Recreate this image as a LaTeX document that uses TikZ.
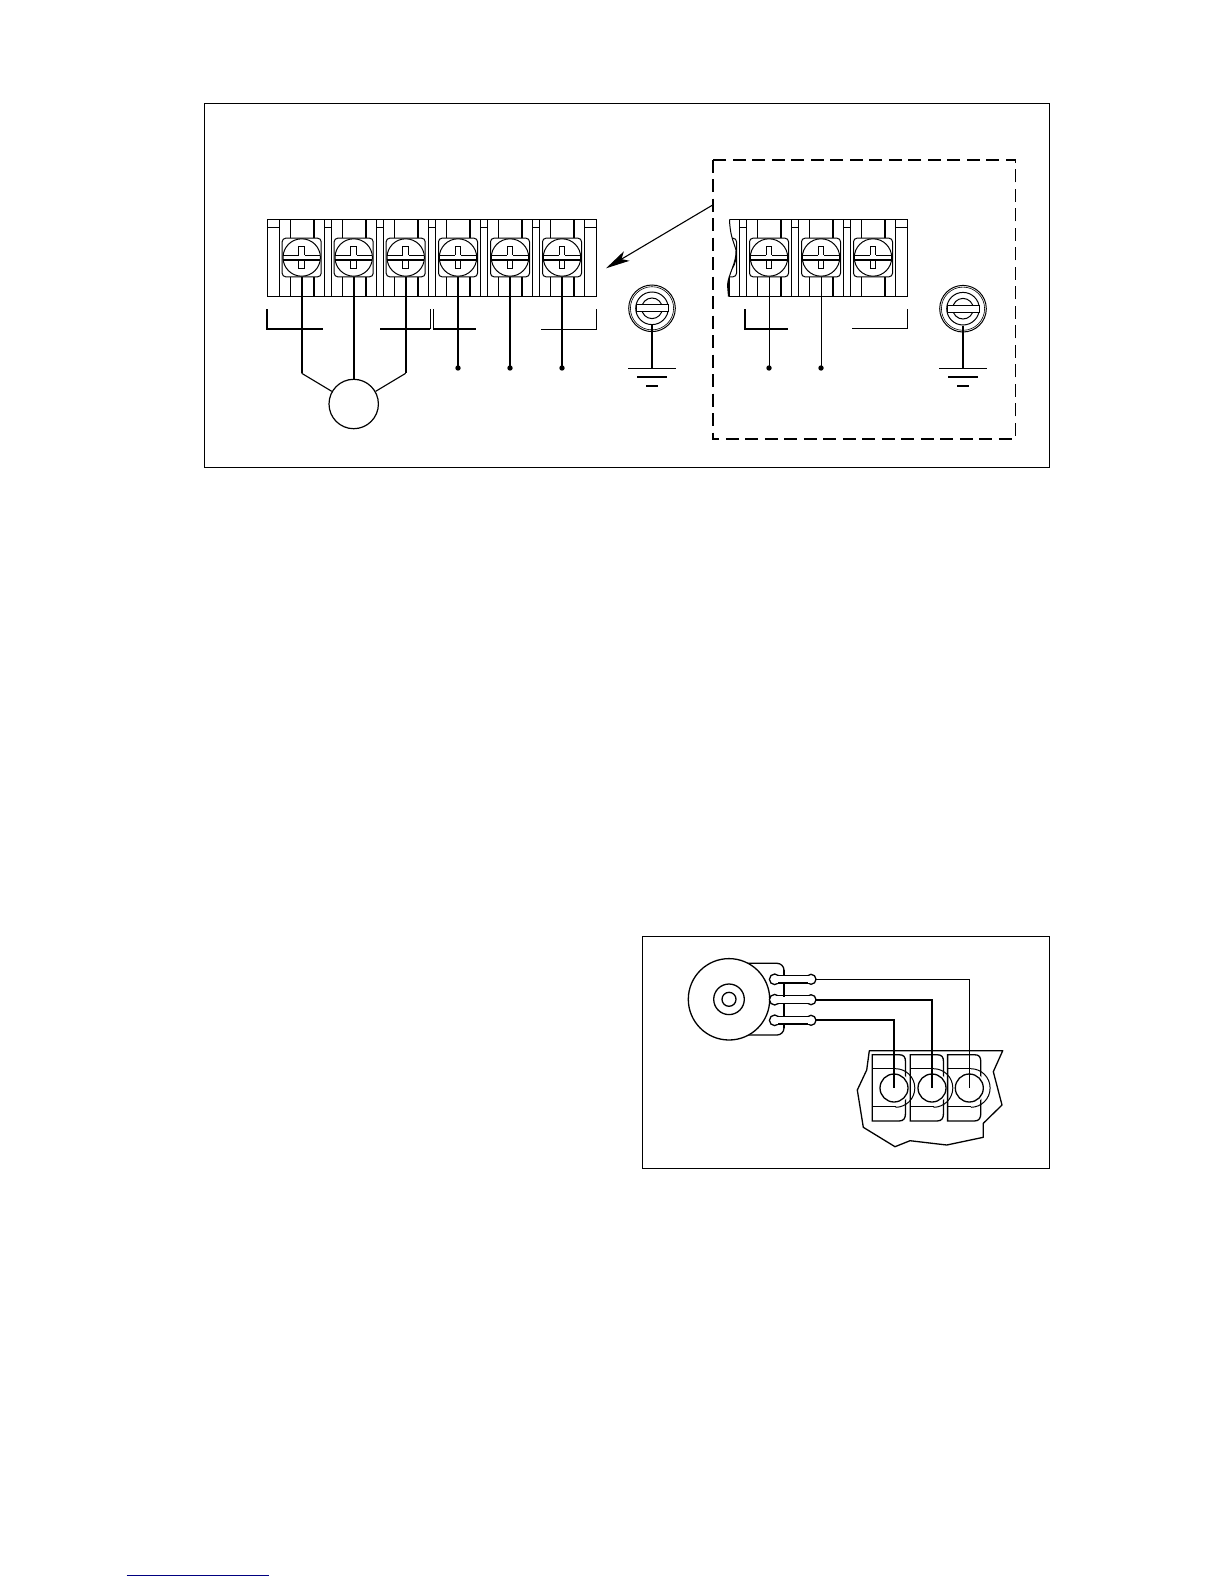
\documentclass[tikz,border=0pt]{standalone}
\usetikzlibrary{arrows.meta}
\definecolor{linkblue}{RGB}{0,0,128}
\tikzset{
  thinl/.style={line width=1pt,black},
  thickl/.style={line width=1.8pt,black},
  wire/.style={line width=1.7pt,black},
  outline/.style={line width=1.3pt,black},
  screwcell/.pic={
    \draw[thinl] (-22.3,-38.3) -- (-22.3,38.8) (22.7,-38.3) -- (22.7,38.8);
    \draw[thinl] (-11.3,-38.3) -- (-11.3,-19) (-11.3,19) -- (-11.3,38.8);
    \draw[thickl] (12,-38.3) -- (12,-19) (12,19) -- (12,38.8);
    \draw[thinl,fill=white,rounded corners=3.5] (-19.5,-19.3) rectangle (19.5,19.3);
    \draw[thinl,fill=white] (0,0) circle[radius=18.7];
    \draw[line width=0.9pt] (-2.9,-2.4) -- (-2.9,-11) -- (2.9,-11) -- (2.9,-2.4);
    \draw[line width=0.9pt] (-2.9,2.6) -- (-2.9,11) -- (2.9,11) -- (2.9,2.6);
    \draw[line width=1.2pt] (-18.4,-2.4) -- (-2.9,-2.4) (2.9,-2.4) -- (18.4,-2.4);
    \draw[line width=1.6pt] (-18.4,2.6) -- (18.4,2.6);
  },
  groundscrew/.pic={
    \draw[thinl] (0,0) circle[radius=23.3];
    \draw[line width=0.6pt] (0,0) circle[radius=21.6];
    \draw[thinl] (0,0) circle[radius=16.3];
    \draw[thinl] (0,0) circle[radius=10.3];
    \draw[thinl,fill=white] (-16,-3.4) rectangle (16,3.4);
    \draw[thickl] (0,17) -- (0,60);
    \draw[thinl] (-23.7,60) -- (23.7,60);
    \draw[line width=1.9pt] (-14.7,68.6) -- (14.7,68.6);
    \draw[line width=1.9pt] (-5.7,77.6) -- (5.7,77.6);
  }
}
\begin{document}
\begin{tikzpicture}[x=1pt,y=-1pt]
\useasboundingbox (0,0) rectangle (1224,1584);
\fill[white] (0,0) rectangle (1224,1584);
% upper frame
\draw[thinl] (204.5,103.5) rectangle (1049.5,467);
\draw[line width=1.6pt,dash pattern=on 13pt off 6.5pt] (712.7,159.7) rectangle (1015.3,439);
\coordinate (arrowstart) at (712.7,205);
\coordinate (arrowtip) at (606,268.3);
\draw[line width=1.1pt,-{Stealth[length=24pt,width=11pt,inset=6pt]}] (arrowstart) -- (arrowtip);

% left terminal block
\foreach \sx in {301.7,353.7,405.7,458,510,562} {
  \pic at (\sx,257.5) {screwcell};
  \draw[thinl] (\sx+22.7,227.7) -- (\sx+29.7,227.7);
}
\draw[thinl] (267.3,219.2) rectangle (596.3,296.3);
\draw[thinl] (267.3,227.7) -- (279.4,227.7);
\draw[thinl] (584.7,227.7) -- (596.3,227.7);
% motor
\node[circle,draw,line width=1.2pt,minimum size=49.4pt,inner sep=0pt] (motor) at (353.7,404) {};
\coordinate (s1) at (301.7,277);
\coordinate (s2) at (353.7,277);
\coordinate (s3) at (405.7,277);
\coordinate (s4) at (458,277);
\coordinate (s5) at (510,277);
\coordinate (s6) at (562,277);
\draw[wire] (s2) -- (motor.north);
\draw[line width=1.7pt,line join=round] (s1) -- (301.7,373.3);
\draw[line width=1.7pt,line join=round] (s3) -- (405.7,373.3);
\draw[line width=1.1pt] (301.7,373.3) -- (motor.150);
\draw[line width=1.1pt] (405.7,373.3) -- (motor.30);
% brackets
\draw[thickl] (267.3,309.3) -- (267.3,329) -- (322.7,329);
\draw[thickl] (380.3,329) -- (430,329);
\draw[thinl] (430,329) -- (430,309.3);
\draw[thinl] (433.3,309.3) -- (433.3,329);
\draw[thickl] (433.3,329) -- (476,329);
\draw[thinl] (541,329) -- (596.3,329) -- (596.3,309.3);
% signal wires with dots
\foreach \n/\sx in {s4/458,s5/510,s6/562} {
  \draw[wire] (\n) -- (\sx,368);
  \fill (\sx,368) circle[radius=2.7];
}
\pic at (652,308.3) {groundscrew};

% right terminal block
\begin{scope}
  \clip (729.5,219.3) .. controls (730,235) and (733,240) .. (736,250)
        .. controls (737,262) and (728,275) .. (727.5,285)
        -- (728,296.7) -- (910,296.7) -- (910,219.3) -- cycle;
  \pic at (717,257.5) {screwcell};
\end{scope}
\foreach \sx in {769,821,873} {
  \pic at (\sx,257.5) {screwcell};
  \draw[thinl] (\sx-29.3,227.7) -- (\sx-22.3,227.7);
}
\draw[thinl] (729.5,219.3) -- (907.7,219.3) -- (907.7,296.7) -- (728.5,296.7);
\draw[thinl] (895.7,227.7) -- (907.7,227.7);
\draw[thinl] (729.5,219.3) .. controls (730,235) and (733,240) .. (736,250)
        .. controls (737,262) and (728,275) .. (727.5,285) -- (728.5,296.7);
\coordinate (s7) at (769,277);
\coordinate (s8) at (821,277);
\draw[thickl] (744.7,309.3) -- (744.7,328.7) -- (787.7,328.7);
\draw[thinl] (852.3,328.7) -- (907.7,328.7) -- (907.7,309.3);
\foreach \n/\sx in {s7/769,s8/821} {
  \draw[line width=1pt] (\n) -- (\sx,368);
  \fill (\sx,368) circle[radius=2.7];
}
\pic at (963,308.7) {groundscrew};

% lower frame
\draw[thinl] (642.5,936) rectangle (1049.5,1168.5);
% strip outline
\draw[outline,line join=round]
  (869.3,1050.7) -- (1002.7,1050.7) -- (993.3,1071.7) -- (1002,1105) -- (983.3,1123.3)
  -- (983.3,1137.3) -- (946.7,1145) -- (910,1140.7) -- (895,1146.7) -- (863.3,1127.3)
  -- (857.3,1090) -- (866.7,1070) -- cycle;
% strip blocks
\foreach \cx in {894,932,969.3} {
  \draw[outline] (\cx-21.7,1054.7) -- (\cx+5,1054.7) .. controls (\cx+10,1054.7) and (\cx+11.5,1057) .. (\cx+11.5,1062)
     -- (\cx+11.5,1113) .. controls (\cx+11.5,1118) and (\cx+10,1121) .. (\cx+5,1121) -- (\cx-21.7,1121) -- cycle;
  \draw[outline] (\cx-21.7,1068.7) -- (\cx+2,1068.7) (\cx-21.7,1106.7) -- (\cx+2,1106.7);
  \fill[white] (\cx+1,1088) circle[radius=15.5];
  \draw[line width=1pt] (\cx+1.5,1068.7) arc[start angle=-90,end angle=90,radius=19.3];
  \draw[outline] (\cx,1088) circle[radius=14];
}
% potentiometer
\draw[outline,rounded corners=7] (748.3,963.3) -- (784,963.3) -- (784,1035) -- (748.3,1035);
\node[circle,draw,fill=white,line width=1.3pt,minimum size=81.4pt,inner sep=0pt] (pot) at (729,999.3) {};
\node[circle,draw,line width=1.3pt,minimum size=30.6pt,inner sep=0pt] (potring) at (729,999.3) {};
\node[circle,draw,line width=1.3pt,minimum size=14pt,inner sep=0pt] (potcore) at (729,999.3) {};
\foreach \ly in {979.3,999.7,1020.3} {
  \draw[outline,fill=white] (774.7,\ly) circle[radius=5.3] (811,\ly) circle[radius=5];
  \fill[white] (775,\ly-3.3) rectangle (811,\ly+3.3);
  \draw[line width=1pt] (778,\ly-4) -- (808,\ly-4);
  \draw[line width=1.6pt] (778,\ly+3.8) -- (808,\ly+3.8);
}
\draw[outline] (784,970) -- (784,1028);
\foreach \ly in {979.3,999.7,1020.3} {\fill[white] (776,\ly-3) rectangle (810,\ly+3);}
\draw[line width=1.5pt] (816,979.5) -- (969.3,979.5) -- (969.3,1088);
\draw[line width=1.6pt] (816,999.7) -- (932,999.7) -- (932,1088);
\draw[line width=1.7pt] (816,1020.3) -- (894,1020.3) -- (894,1088);
% footer rule
\draw[linkblue,line width=1pt] (126.7,1575.3) -- (269,1575.3);
\end{tikzpicture}
\end{document}
